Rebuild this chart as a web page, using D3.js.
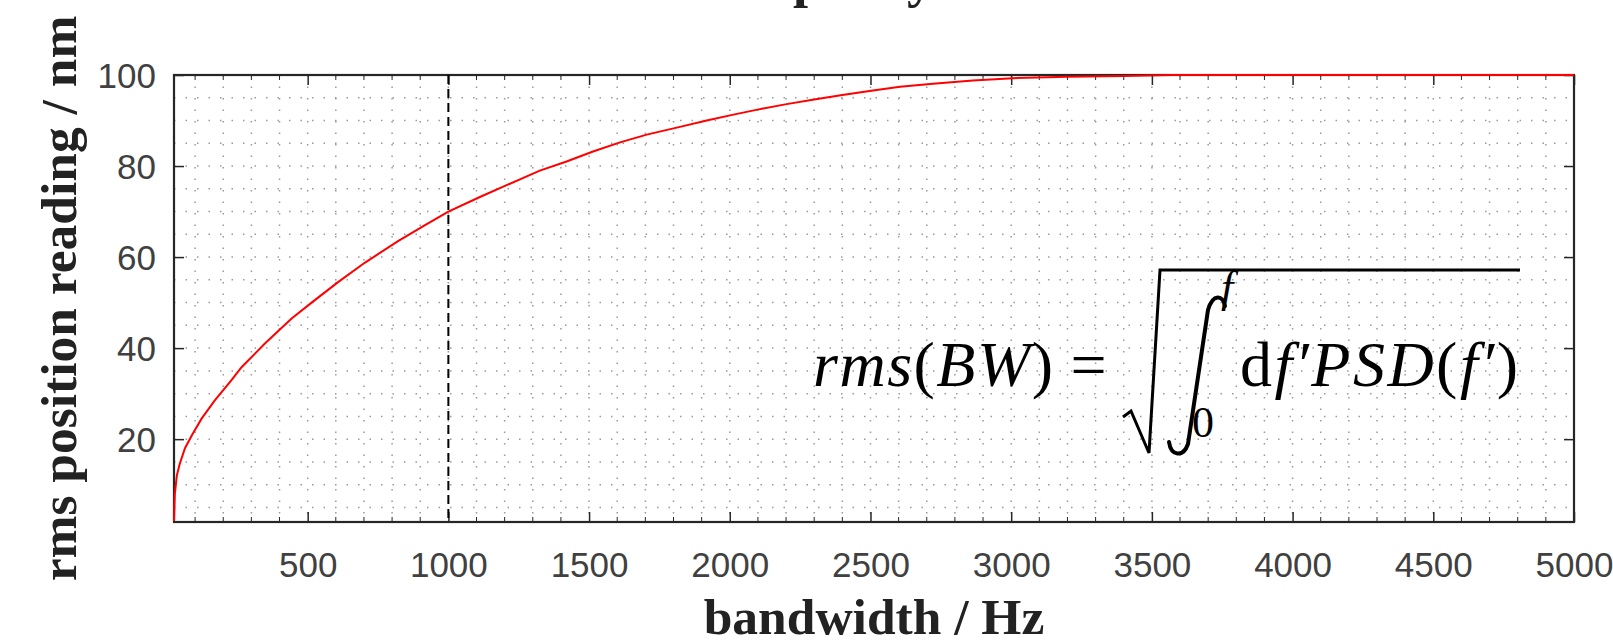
<!DOCTYPE html>
<html>
<head>
<meta charset="utf-8">
<script src="https://cdn.jsdelivr.net/npm/d3@7"></script>
<style>
  body { margin: 0; background: #fff; }
  svg { display: block; }
</style>
</head>
<body>
<div id="chart"></div>
<script>
// rms-Wert über Bandbreite
const bandwidth = [25, 28, 35, 45, 64, 90, 123, 170, 230, 265, 348, 443, 514, 608, 704, 821, 917, 1000,
  1112, 1207, 1325, 1420, 1514, 1610, 1705, 1823, 1918, 2013, 2107, 2202, 2300, 2400, 2509, 2605,
  2722, 2864, 3006, 3200, 3400, 3570, 4000, 4500, 5000];
const rmsReading = [2, 8, 12, 14.5, 18, 21, 24.5, 28.5, 33, 35.8, 41, 46.5, 50, 54.5, 58.8, 63.5, 67, 70,
  73.2, 75.8, 79, 81, 83.2, 85.2, 86.9, 88.6, 90, 91.3, 92.5, 93.6, 94.6, 95.6, 96.6, 97.4,
  98.1, 98.8, 99.3, 99.6, 99.8, 100, 100, 100, 100];

const xTicks = [500, 1000, 1500, 2000, 2500, 3000, 3500, 4000, 4500, 5000];
const yTicks = [20, 40, 60, 80, 100];
const xMinor = d3.range(100, 5001, 100);
const yMinor = d3.range(5, 101, 5);
const markerBW = 1000;

const W = 1613, H = 640;
const m = { left: 174, top: 75, right: 39, bottom: 118 };
const iw = W - m.left - m.right, ih = H - m.top - m.bottom;

const x = d3.scaleLinear().domain([25, 5000]).range([0, iw]);
const y = d3.scaleLinear().domain([1.8, 100]).range([ih, 0]);

const svg = d3.select('#chart').append('svg').attr('width', W).attr('height', H);

// Titel (oben abgeschnitten, nur Unterlängen sichtbar)
svg.append('text')
  .attr('x', 727).attr('y', -4)
  .attr('font-family', 'Liberation Serif, Times New Roman, serif')
  .attr('font-weight', 'bold').attr('font-size', 54).attr('fill', '#222')
  .text('Capacity');

const g = svg.append('g').attr('transform', `translate(${m.left},${m.top})`);

// Gitter (gepunktet)
g.append('g').selectAll('line').data(xMinor.filter(v => v > 25 && v < 5000)).join('line')
  .attr('x1', d => x(d)).attr('x2', d => x(d)).attr('y1', 0).attr('y2', ih)
  .attr('stroke', '#9a9a9a').attr('stroke-width', 1.5).attr('stroke-dasharray', '1.5,10');
g.append('g').selectAll('line').data(yMinor.filter(v => v > 1.8 && v < 100)).join('line')
  .attr('y1', d => y(d)).attr('y2', d => y(d)).attr('x1', 0).attr('x2', iw)
  .attr('stroke', '#9a9a9a').attr('stroke-width', 1.5).attr('stroke-dasharray', '1.5,10');

// Achsen
const tickFont = g => g.selectAll('text')
  .attr('font-family', 'Liberation Sans, Arial, sans-serif')
  .attr('font-size', 35).attr('fill', '#404040');

const xAxis = g.append('g').attr('transform', `translate(0,${ih})`)
  .call(d3.axisBottom(x).tickValues(xTicks).tickSize(-10).tickPadding(30).tickFormat(d3.format('d')));
xAxis.call(tickFont);
xAxis.select('.domain').remove();

const yAxis = g.append('g')
  .call(d3.axisLeft(y).tickValues(yTicks).tickSize(-10).tickPadding(18).tickFormat(d3.format('d')));
yAxis.call(tickFont);
yAxis.select('.domain').remove();
yAxis.selectAll('text').attr('dy', '0.36em');

g.append('g').call(d3.axisTop(x).tickValues(xTicks).tickSize(-10).tickFormat(''))
  .call(a => a.select('.domain').remove());
g.append('g').attr('transform', `translate(${iw},0)`)
  .call(d3.axisRight(y).tickValues(yTicks).tickSize(-10).tickFormat(''))
  .call(a => a.select('.domain').remove());

// kleine Striche
const minorX = xMinor.filter(v => v > 25 && v < 5000 && v % 500 !== 0);
g.append('g').selectAll('line').data(minorX).join('line')
  .attr('x1', d => x(d)).attr('x2', d => x(d)).attr('y1', ih).attr('y2', ih - 5).attr('stroke', '#262626');
g.append('g').selectAll('line').data(minorX).join('line')
  .attr('x1', d => x(d)).attr('x2', d => x(d)).attr('y1', 0).attr('y2', 5).attr('stroke', '#262626');

g.selectAll('.tick line').attr('stroke', '#262626').attr('stroke-width', 1.5);

g.append('rect').attr('width', iw).attr('height', ih)
  .attr('fill', 'none').attr('stroke', '#262626').attr('stroke-width', 2.2);

// Markierung bei 1000 Hz
g.append('line')
  .attr('x1', x(markerBW)).attr('x2', x(markerBW)).attr('y1', 0).attr('y2', ih)
  .attr('stroke', '#000').attr('stroke-width', 2).attr('stroke-dasharray', '9,5');

// Kurve
const line = d3.line().x((d, i) => x(bandwidth[i])).y(d => y(d));
g.append('path').datum(rmsReading)
  .attr('d', line).attr('fill', 'none').attr('stroke', '#f00').attr('stroke-width', 2);

// Formel
const serif = 'Liberation Serif, Times New Roman, serif';
const fx = 813 - m.left, fy = 386 - m.top;
const f = g.append('g').attr('transform', `translate(${fx},${fy})`).attr('fill', '#000');

const t1 = f.append('text').attr('font-family', serif).attr('font-size', 64).attr('letter-spacing', 1.5);
t1.append('tspan').attr('font-style', 'italic').text('rms');
t1.append('tspan').text('(');
t1.append('tspan').attr('font-style', 'italic').text('BW');
t1.append('tspan').text(')');
t1.append('tspan').attr('dx', 16).text('=');

f.append('path')
  .attr('d', 'M310,31 L318,25 L336,67 L347,-116 L707,-116')
  .attr('fill', 'none').attr('stroke', '#000').attr('stroke-width', 3).attr('stroke-linejoin', 'miter');

f.append('path')
  .attr('d', 'M356,56 C358,70 370,72 375,58 L395,-76 C400,-93 410,-91 412,-80')
  .attr('fill', 'none').attr('stroke', '#000').attr('stroke-width', 4).attr('stroke-linecap', 'round');

f.append('text').attr('x', 408).attr('y', -84)
  .attr('font-family', serif).attr('font-size', 44).attr('font-style', 'italic').text('f');
f.append('text').attr('x', 379).attr('y', 51)
  .attr('font-family', serif).attr('font-size', 44).text('0');

const t2 = f.append('text').attr('x', 427).attr('font-family', serif).attr('font-size', 64)
  .attr('letter-spacing', 2.5);
t2.append('tspan').text('d');
t2.append('tspan').attr('font-style', 'italic').text('f′');
t2.append('tspan').attr('font-style', 'italic').text('PSD');
t2.append('tspan').text('(');
t2.append('tspan').attr('font-style', 'italic').text('f′');
t2.append('tspan').text(')');

// Achsentitel
svg.append('text')
  .attr('x', m.left + iw / 2).attr('y', 634)
  .attr('text-anchor', 'middle')
  .attr('font-family', serif).attr('font-weight', 'bold').attr('font-size', 51.5).attr('fill', '#222')
  .text('bandwidth / Hz');

svg.append('text')
  .attr('transform', `translate(76,${m.top + ih / 2}) rotate(-90)`)
  .attr('text-anchor', 'middle')
  .attr('font-family', serif).attr('font-weight', 'bold').attr('font-size', 51.5).attr('fill', '#222')
  .text('rms position reading / nm');
</script>
</body>
</html>
